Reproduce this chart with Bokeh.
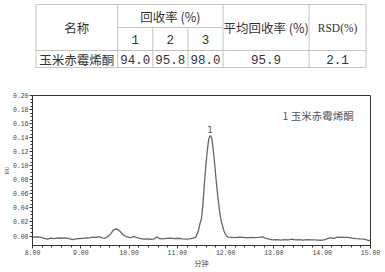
from bokeh.plotting import figure
from bokeh.layouts import column
from bokeh.models import Range1d, FixedTicker, CustomJSTickFormatter
from bokeh.core.properties import value
from bokeh.embed import file_html
from bokeh.resources import INLINE

# ---------------- data ----------------
header_name = "名称"
header_recovery = "回收率 (%)"
header_runs = ["1", "2", "3"]
header_mean = "平均回收率 (%)"
header_rsd = "RSD(%)"
compound = "玉米赤霉烯酮"
recoveries = ["94.0", "95.8", "98.0"]
mean_recovery = "95.9"
rsd = "2.1"

time_min = [8.00, 8.08, 8.17, 8.24, 8.31, 8.38, 8.45, 8.52, 8.60, 8.66, 8.72, 8.78, 8.83, 8.90,
            8.98, 9.06, 9.12, 9.20, 9.26, 9.32, 9.38, 9.44, 9.50, 9.56, 9.62, 9.67, 9.72, 9.77,
            9.82, 9.88, 9.95, 10.03, 10.09, 10.15, 10.22, 10.30, 10.38, 10.45, 10.52, 10.58,
            10.63, 10.70, 10.78, 10.86, 10.94, 11.02, 11.10, 11.17, 11.25, 11.32, 11.38, 11.43,
            11.47, 11.50, 11.53, 11.56, 11.59, 11.62, 11.65, 11.68, 11.71, 11.74, 11.77, 11.80,
            11.84, 11.88, 11.92, 11.97, 12.02, 12.06, 12.12, 12.20, 12.28, 12.36, 12.44, 12.52,
            12.60, 12.68, 12.76, 12.82, 12.90, 12.98, 13.06, 13.14, 13.22, 13.30, 13.38, 13.44,
            13.52, 13.60, 13.68, 13.76, 13.84, 13.92, 14.00, 14.06, 14.12, 14.18, 14.24, 14.30,
            14.38, 14.46, 14.54, 14.62, 14.70, 14.78, 14.86, 14.94, 15.00]
signal_ru = [-0.0015, -0.0012, -0.0016, -0.0035, -0.0045, -0.0030, -0.0038, -0.0028, -0.0032,
             -0.0026, -0.0030, -0.0040, -0.0050, -0.0042, -0.0036, -0.0030, -0.0028, -0.0022,
             -0.0015, -0.0020, -0.0008, -0.0025, -0.0030, -0.0010, 0.0030, 0.0080, 0.0100,
             0.0095, 0.0060, 0.0015, -0.0010, -0.0025, -0.0005, -0.0020, -0.0035, -0.0045,
             -0.0040, -0.0048, -0.0040, -0.0015, -0.0038, -0.0042, -0.0035, -0.0030, -0.0038,
             -0.0032, -0.0040, -0.0045, -0.0040, -0.0030, -0.0020, 0.0060, 0.0180, 0.0250,
             0.0450, 0.0750, 0.1000, 0.1220, 0.1380, 0.1430, 0.1400, 0.1250, 0.1050, 0.0820,
             0.0550, 0.0320, 0.0180, 0.0060, 0.0000, -0.0015, -0.0018, -0.0022, -0.0015,
             -0.0020, -0.0025, -0.0018, -0.0022, -0.0020, -0.0012, -0.0030, -0.0045, -0.0055,
             -0.0052, -0.0058, -0.0050, -0.0055, -0.0045, -0.0055, -0.0050, -0.0058, -0.0052,
             -0.0056, -0.0054, -0.0058, -0.0060, -0.0050, -0.0035, -0.0025, -0.0035, -0.0020,
             -0.0015, -0.0018, -0.0020, -0.0030, -0.0038, -0.0042, -0.0045, -0.0060, -0.0065]
x_ticks = [8, 9, 10, 11, 12, 13, 14, 15]
y_ticks = [0.00, 0.02, 0.04, 0.06, 0.08, 0.10, 0.12, 0.14, 0.16, 0.18, 0.20]
peak_label = "1"
peak_time = 11.68
peak_height = 0.1430
legend_text = "1 玉米赤霉烯酮"
x_label = "分钟"
y_label = "RU"

# ---------------- table ----------------
CJK = "Noto Sans CJK SC"
MONO = "Liberation Mono"
SERIF = "Liberation Serif"
W, TH = 385, 85
col_edges = [4, 97, 137, 177, 217, 315, 380]
row_edges = [4, 27, 50, 67]

t = figure(width=W, height=TH, x_range=Range1d(0, W), y_range=Range1d(TH, 0),
           x_axis_location=None, y_axis_location=None, toolbar_location=None,
           output_backend="svg", min_border=0)
t.outline_line_color = None
t.grid.visible = False

lc = "#c4c4c4"
hx0 = [col_edges[0], col_edges[1], col_edges[0], col_edges[0]]
hx1 = [col_edges[-1], col_edges[4], col_edges[-1], col_edges[-1]]
hy = [row_edges[0], row_edges[1], row_edges[2], row_edges[3]]
t.segment(x0=hx0, y0=hy, x1=hx1, y1=hy, line_color=lc, line_width=1)
vx = col_edges
vy0 = [row_edges[0], row_edges[0], row_edges[1], row_edges[1], row_edges[0], row_edges[0], row_edges[0]]
vy1 = [row_edges[3]] * len(vx)
t.segment(x0=vx, y0=vy0, x1=vx, y1=vy1, line_color=lc, line_width=1)

cx = [(col_edges[i] + col_edges[i + 1]) / 2 for i in range(len(col_edges) - 1)]
hdr_mid = (row_edges[0] + row_edges[2]) / 2
r1 = (row_edges[0] + row_edges[1]) / 2
r2 = (row_edges[1] + row_edges[2]) / 2
r3 = (row_edges[2] + row_edges[3]) / 2 + 0.5
tc = "#333333"

t.text(x=[cx[0], (col_edges[1] + col_edges[4]) / 2, cx[4], cx[0]],
       y=[hdr_mid, r1, hdr_mid, r3],
       text=[header_name, header_recovery, header_mean, compound],
       text_font=value(CJK), text_font_size="12.5px", text_color=tc,
       text_align="center", text_baseline="middle")
t.text(x=cx[1:4], y=[r2] * 3, text=header_runs, text_font=value(MONO),
       text_font_size="12.5px", text_color=tc, text_align="center", text_baseline="middle")
t.text(x=[cx[5]], y=[hdr_mid], text=[header_rsd], text_font=value(SERIF),
       text_font_size="11.5px", text_color=tc, text_align="center", text_baseline="middle")
t.text(x=cx[1:], y=[r3] * 5, text=recoveries + [mean_recovery, rsd], text_font=value(MONO),
       text_font_size="12.5px", text_color=tc, text_align="center", text_baseline="middle")

# ---------------- chromatogram ----------------
p = figure(width=W, height=187, x_range=Range1d(8, 15), y_range=Range1d(-0.0135, 0.20),
           toolbar_location=None, output_backend="svg",
           min_border_left=32, min_border_right=15, min_border_top=10, min_border_bottom=27)
p.grid.visible = False
p.outline_line_color = "#333333"
p.outline_line_width = 1

p.line(time_min, signal_ru, line_color="#666666", line_width=1.3)

p.text(x=[peak_time], y=[peak_height + 0.004], text=[peak_label], text_font=value("DejaVu Sans"),
       text_font_size="9px", text_color="#555555", text_align="center", text_baseline="bottom")
p.text(x=[13.18], y=[0.1716], text=[legend_text], text_font=value(CJK),
       text_font_size="10.5px", text_color="#555555", text_align="left", text_baseline="middle")

p.xaxis.ticker = FixedTicker(ticks=x_ticks, minor_ticks=[8 + 0.2 * i for i in range(36)])
p.yaxis.ticker = FixedTicker(ticks=y_ticks, minor_ticks=[0.005 * i for i in range(41)])
fmt = CustomJSTickFormatter(code="return tick.toFixed(2);")
p.xaxis.formatter = fmt
p.yaxis.formatter = fmt

for ax in (p.xaxis, p.yaxis):
    ax.axis_line_color = "#333333"
    ax.major_tick_line_color = "#333333"
    ax.minor_tick_line_color = "#333333"
    ax.major_tick_in = 0
    ax.major_tick_out = 3
    ax.minor_tick_in = 0
    ax.minor_tick_out = 2
    ax.major_label_text_font = MONO
    ax.major_label_text_font_size = "6.5px"
    ax.major_label_text_color = "#444444"
    ax.major_label_standoff = 1
    ax.axis_label_text_font_style = "normal"
    ax.axis_label_text_color = "#444444"

p.xaxis.axis_label = x_label
p.xaxis.axis_label_text_font = CJK
p.xaxis.axis_label_text_font_size = "7px"
p.xaxis.axis_label_standoff = 0
p.yaxis.axis_label = y_label
p.yaxis.axis_label_text_font = SERIF
p.yaxis.axis_label_text_font_size = "6px"
p.yaxis.axis_label_standoff = 0

layout = column(t, p, spacing=0)
open("out.html", "w").write(file_html(layout, INLINE))
